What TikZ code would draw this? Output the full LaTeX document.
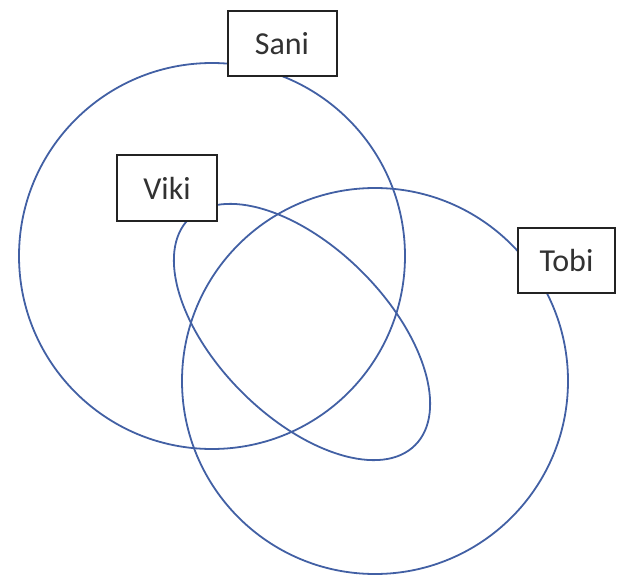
\documentclass[tikz,border=0pt]{standalone}
\usepackage{fontspec}
\setmainfont{Carlito}
\usetikzlibrary{positioning}
\definecolor{setblue}{RGB}{66,96,164}
\definecolor{boxgray}{RGB}{35,35,35}
\definecolor{txtgray}{RGB}{50,50,50}
\tikzset{
  setline/.style={draw=setblue, line width=1.8pt},
  namebox/.style={draw=boxgray, fill=white, line width=2pt, text=txtgray,
                  font=\fontsize{32}{38}\selectfont, inner sep=0pt},
}

\begin{document}
\begin{tikzpicture}[x=1pt, y=-1pt]
    \useasboundingbox (0,0) rectangle (618,575);
    % the three sets
    \draw[setline] (212,256) circle (193);
    \draw[setline] (375,381) circle (193);
    \draw[setline, rotate around={-45:(302,332)}] (302,332) ellipse (160 and 85);
    % labels
    \node[namebox, minimum width=109pt, minimum height=65pt] (sani) at (282,44) {Sani};
    \node[namebox, minimum width=100pt, minimum height=66pt] (viki) at (167,188) {Viki};
    \node[namebox, minimum width=97pt, minimum height=65pt] (tobi) at (566.5,260.5) {Tobi};
  \end{tikzpicture}
\end{document}
